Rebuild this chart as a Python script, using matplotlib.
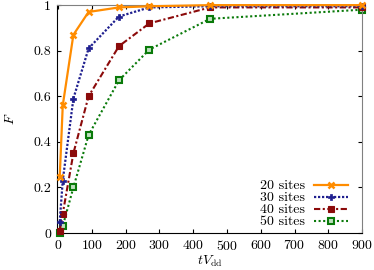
import numpy as np
import matplotlib
matplotlib.use("Agg")
import matplotlib.pyplot as pl

pl.rcParams['font.family'] = 'serif'
pl.rcParams['font.serif'] = ['cmr10']
pl.rcParams['mathtext.fontset'] = 'cm'
pl.rcParams['axes.formatter.use_mathtext'] = True
pl.rcParams['font.size'] = 10

#--------------------------------------------------------------------------------------------
# data

tV = [4.5, 13.5, 45, 90, 180, 270, 450, 900]

F20 = [0.245, 0.56, 0.87, 0.97, 0.99, 0.995, 1.0, 1.0]
F30 = [0.05, 0.23, 0.59, 0.81, 0.95, 0.99, 0.995, 0.995]
F40 = [0.01, 0.085, 0.35, 0.60, 0.82, 0.92, 0.99, 0.99]
F50 = [0.0, 0.03, 0.20, 0.43, 0.67, 0.805, 0.94, 0.98]

labels = ['20 sites', '30 sites', '40 sites', '50 sites']

#--------------------------------------------------------------------------------------------

fig1 = pl.figure(figsize=(3.74, 2.70), dpi=100)
ax11 = fig1.add_axes([0.152, 0.137, 0.816, 0.844])

ax11.plot(tV, F20, color='#ff8c00', ls='-', lw=1.6, marker='x', ms=5, mew=1.8,
          label=labels[0], clip_on=False, zorder=5)
ax11.plot(tV, F30, color='#1f1f8f', ls=(0, (1, 0.8)), lw=1.6, marker='P', ms=5, mew=0.5,
          label=labels[1], clip_on=False, zorder=4)
ax11.plot(tV, F40, color='#8b0a0a', ls=(0, (3, 1.2, 1, 1.2)), lw=1.5, marker='s', ms=5, mew=0.8,
          label=labels[2], clip_on=False, zorder=3)
ax11.plot(tV, F50, color='#0a7a0a', ls=(0, (1, 1.2)), lw=1.5, marker='s', ms=5, mew=1.5,
          mfc='#bfe0bf', label=labels[3], clip_on=False, zorder=2)

ax11.set_xlim([-4., 900.])
ax11.set_ylim([0., 1.])
ax11.set_xticks(np.arange(0, 901, 100))
ax11.set_yticks([0, 0.2, 0.4, 0.6, 0.8, 1.0])
ax11.set_yticklabels(['0', '0.2', '0.4', '0.6', '0.8', '1'])

ax11.tick_params(direction='in', top=True, right=True, length=3, width=0.8, pad=4)
ax11.spines['top'].set_color('#808080')
ax11.spines['right'].set_color('#808080')

ax11.set_xlabel(r'$tV_{\rm dd}$', labelpad=1)
ax11.set_ylabel(r'$F$', labelpad=12)

ax11.legend(loc='lower right', bbox_to_anchor=(0.955, 0.02), frameon=False,
            markerfirst=False, handlelength=2.5, labelspacing=-0.05,
            borderaxespad=0., handletextpad=0.6, borderpad=0.)

fig1.savefig('out.png', dpi=100)
